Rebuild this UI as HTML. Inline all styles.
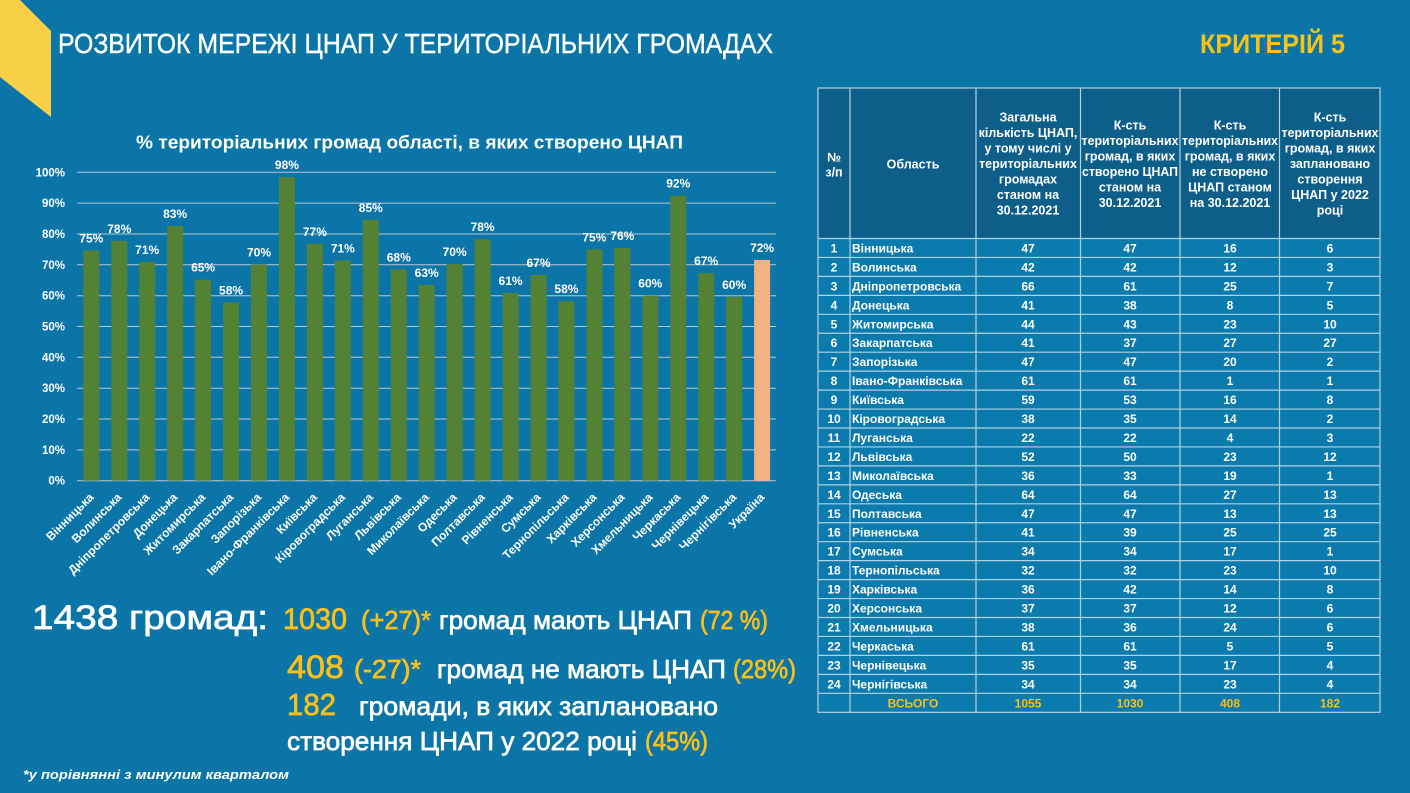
<!DOCTYPE html>
<html><head><meta charset="utf-8"><style>
html,body{margin:0;padding:0;background:#0B75A8;}
svg{display:block;font-family:"Liberation Sans","DejaVu Sans",sans-serif;}
</style></head><body>
<svg width="1410" height="793" viewBox="0 0 1410 793" xmlns="http://www.w3.org/2000/svg">
<rect x="0" y="0" width="1410" height="793" fill="#0B75A8"/>
<polygon points="0,0 20,0 51,31 51,117 0,77" fill="#F9D04A"/>
<text x="58" y="53" font-size="28" fill="#fff" stroke="#fff" stroke-width="0.4" textLength="715" lengthAdjust="spacingAndGlyphs">РОЗВИТОК МЕРЕЖІ ЦНАП У ТЕРИТОРІАЛЬНИХ ГРОМАДАХ</text>
<text x="1200" y="53" font-size="27" font-weight="bold" fill="#F7C21A" textLength="145" lengthAdjust="spacingAndGlyphs">КРИТЕРІЙ 5</text>

<text x="136" y="148.5" font-size="18" font-weight="bold" fill="#fff" textLength="547" lengthAdjust="spacingAndGlyphs">% територіальних громад області, в яких створено ЦНАП</text>

<g stroke="#B5C8D5" stroke-width="1">
<line x1="77" y1="480.7" x2="776" y2="480.7"/>
<line x1="77" y1="449.9" x2="776" y2="449.9"/>
<line x1="77" y1="419.0" x2="776" y2="419.0"/>
<line x1="77" y1="388.2" x2="776" y2="388.2"/>
<line x1="77" y1="357.3" x2="776" y2="357.3"/>
<line x1="77" y1="326.5" x2="776" y2="326.5"/>
<line x1="77" y1="295.7" x2="776" y2="295.7"/>
<line x1="77" y1="264.8" x2="776" y2="264.8"/>
<line x1="77" y1="234.0" x2="776" y2="234.0"/>
<line x1="77" y1="203.1" x2="776" y2="203.1"/>
<line x1="77" y1="172.3" x2="776" y2="172.3"/>
</g>
<g font-size="11.5" font-weight="bold" fill="#fff" text-anchor="end">
<text x="65" y="484.7">0%</text>
<text x="65" y="453.9">10%</text>
<text x="65" y="423.0">20%</text>
<text x="65" y="392.2">30%</text>
<text x="65" y="361.3">40%</text>
<text x="65" y="330.5">50%</text>
<text x="65" y="299.7">60%</text>
<text x="65" y="268.8">70%</text>
<text x="65" y="238.0">80%</text>
<text x="65" y="207.1">90%</text>
<text x="65" y="176.3">100%</text>
</g>

<g fill="#548235">
<rect x="83.3" y="250.6" width="16" height="230.1"/>
<rect x="111.25" y="240.8" width="16" height="239.9"/>
<rect x="139.2" y="262.0" width="16" height="218.7"/>
<rect x="167.15" y="226.0" width="16" height="254.7"/>
<rect x="195.1" y="279.6" width="16" height="201.1"/>
<rect x="223.05" y="302.4" width="16" height="178.3"/>
<rect x="251.0" y="264.5" width="16" height="216.2"/>
<rect x="278.95" y="177.2" width="16" height="303.5"/>
<rect x="306.9" y="243.8" width="16" height="236.9"/>
<rect x="334.85" y="260.5" width="16" height="220.2"/>
<rect x="362.8" y="219.8" width="16" height="260.9"/>
<rect x="390.75" y="269.4" width="16" height="211.3"/>
<rect x="418.7" y="284.9" width="16" height="195.8"/>
<rect x="446.65" y="263.9" width="16" height="216.8"/>
<rect x="474.6" y="239.2" width="16" height="241.5"/>
<rect x="502.55" y="292.9" width="16" height="187.8"/>
<rect x="530.5" y="275.0" width="16" height="205.7"/>
<rect x="558.45" y="301.2" width="16" height="179.5"/>
<rect x="586.4" y="249.4" width="16" height="231.3"/>
<rect x="614.35" y="247.9" width="16" height="232.8"/>
<rect x="642.3" y="295.7" width="16" height="185.0"/>
<rect x="670.25" y="195.7" width="16" height="285.0"/>
<rect x="698.2" y="273.1" width="16" height="207.6"/>
<rect x="726.15" y="296.9" width="16" height="183.8"/>
</g>
<rect x="754.1" y="259.9" width="16" height="220.8" fill="#F4B183"/>

<g font-size="12" font-weight="bold" fill="#fff" text-anchor="middle">
<text x="91.3" y="242.6">75%</text>
<text x="119.25" y="232.8">78%</text>
<text x="147.2" y="254.0">71%</text>
<text x="175.15" y="218.0">83%</text>
<text x="203.1" y="271.6">65%</text>
<text x="231.05" y="294.4">58%</text>
<text x="259.0" y="256.5">70%</text>
<text x="286.95" y="169.2">98%</text>
<text x="314.9" y="235.8">77%</text>
<text x="342.85" y="252.5">71%</text>
<text x="370.8" y="211.8">85%</text>
<text x="398.75" y="261.4">68%</text>
<text x="426.7" y="276.9">63%</text>
<text x="454.65" y="255.9">70%</text>
<text x="482.6" y="231.2">78%</text>
<text x="510.55" y="284.9">61%</text>
<text x="538.5" y="267.0">67%</text>
<text x="566.45" y="293.2">58%</text>
<text x="594.4" y="241.4">75%</text>
<text x="622.35" y="239.9">76%</text>
<text x="650.3" y="287.7">60%</text>
<text x="678.25" y="187.7">92%</text>
<text x="706.2" y="265.1">67%</text>
<text x="734.15" y="288.9">60%</text>
<text x="762.1" y="251.9">72%</text>
</g>

<g font-size="12" font-weight="bold" fill="#fff" text-anchor="end">
<text transform="translate(94.3,498) rotate(-45)">Вінницька</text>
<text transform="translate(122.25,498) rotate(-45)">Волинська</text>
<text transform="translate(150.2,498) rotate(-45)">Дніпропетровська</text>
<text transform="translate(178.15,498) rotate(-45)">Донецька</text>
<text transform="translate(206.1,498) rotate(-45)">Житомирська</text>
<text transform="translate(234.05,498) rotate(-45)">Закарпатська</text>
<text transform="translate(262.0,498) rotate(-45)">Запорізька</text>
<text transform="translate(289.95,498) rotate(-45)">Івано-Франківська</text>
<text transform="translate(317.9,498) rotate(-45)">Київська</text>
<text transform="translate(345.85,498) rotate(-45)">Кіровоградська</text>
<text transform="translate(373.8,498) rotate(-45)">Луганська</text>
<text transform="translate(401.75,498) rotate(-45)">Львівська</text>
<text transform="translate(429.7,498) rotate(-45)">Миколаївська</text>
<text transform="translate(457.65,498) rotate(-45)">Одеська</text>
<text transform="translate(485.6,498) rotate(-45)">Полтавська</text>
<text transform="translate(513.55,498) rotate(-45)">Рівненська</text>
<text transform="translate(541.5,498) rotate(-45)">Сумська</text>
<text transform="translate(569.45,498) rotate(-45)">Тернопільська</text>
<text transform="translate(597.4,498) rotate(-45)">Харківська</text>
<text transform="translate(625.35,498) rotate(-45)">Херсонська</text>
<text transform="translate(653.3,498) rotate(-45)">Хмельницька</text>
<text transform="translate(681.25,498) rotate(-45)">Черкаська</text>
<text transform="translate(709.2,498) rotate(-45)">Чернівецька</text>
<text transform="translate(737.15,498) rotate(-45)">Чернігівська</text>
<text transform="translate(765.1,498) rotate(-45)">Україна</text>
</g>

<!-- bottom summary -->
<g stroke-width="0.7">
<text x="32" y="629" font-size="34" fill="#fff" stroke="#fff" textLength="236" lengthAdjust="spacingAndGlyphs">1438 громад:</text>
<text x="283" y="629" font-size="30" fill="#FBBF1A" stroke="#FBBF1A" textLength="64" lengthAdjust="spacingAndGlyphs">1030</text>
<text x="361" y="629" font-size="26" fill="#FBBF1A" stroke="#FBBF1A" textLength="70" lengthAdjust="spacingAndGlyphs">(+27)*</text>
<text x="439" y="629" font-size="26" fill="#fff" stroke="#fff" textLength="253" lengthAdjust="spacingAndGlyphs">громад мають ЦНАП</text>
<text x="700" y="629" font-size="26" fill="#FBBF1A" stroke="#FBBF1A" textLength="68" lengthAdjust="spacingAndGlyphs">(72 %)</text>

<text x="287" y="678" font-size="32" fill="#FBBF1A" stroke="#FBBF1A" textLength="57" lengthAdjust="spacingAndGlyphs">408</text>
<text x="354" y="678" font-size="26" fill="#FBBF1A" stroke="#FBBF1A" textLength="67" lengthAdjust="spacingAndGlyphs">(-27)*</text>
<text x="437" y="678" font-size="26" fill="#fff" stroke="#fff" textLength="289" lengthAdjust="spacingAndGlyphs">громад не мають ЦНАП</text>
<text x="733" y="678" font-size="26" fill="#FBBF1A" stroke="#FBBF1A" textLength="63" lengthAdjust="spacingAndGlyphs">(28%)</text>

<text x="287" y="715" font-size="31" fill="#FBBF1A" stroke="#FBBF1A" textLength="49" lengthAdjust="spacingAndGlyphs">182</text>
<text x="359" y="715" font-size="26" fill="#fff" stroke="#fff" textLength="359" lengthAdjust="spacingAndGlyphs">громади, в яких заплановано</text>

<text x="287" y="750" font-size="26" fill="#fff" stroke="#fff" textLength="350" lengthAdjust="spacingAndGlyphs">створення ЦНАП у 2022 році</text>
<text x="645" y="750" font-size="26" fill="#FBBF1A" stroke="#FBBF1A" textLength="63" lengthAdjust="spacingAndGlyphs">(45%)</text>
</g>
<text x="23" y="779" font-size="13" font-weight="bold" font-style="italic" fill="#fff" textLength="266" lengthAdjust="spacingAndGlyphs">*у порівнянні з минулим кварталом</text>

<!-- table -->
<rect x="818" y="88" width="562" height="150.5" fill="#0E5E8A"/>
<rect x="818" y="238.5" width="562" height="473.8" fill="#0B7AAD"/>
<g stroke="#B0D2E4" stroke-width="1.2" fill="none">
<rect x="818" y="88" width="562" height="624.3"/>
<line x1="850" y1="88" x2="850" y2="712.3"/>
<line x1="976" y1="88" x2="976" y2="712.3"/>
<line x1="1080.5" y1="88" x2="1080.5" y2="712.3"/>
<line x1="1180" y1="88" x2="1180" y2="712.3"/>
<line x1="1279.5" y1="88" x2="1279.5" y2="712.3"/>
<line x1="818" y1="238.5" x2="1380" y2="238.5"/>
<line x1="818" y1="257.45" x2="1380" y2="257.45"/>
<line x1="818" y1="276.4" x2="1380" y2="276.4"/>
<line x1="818" y1="295.35" x2="1380" y2="295.35"/>
<line x1="818" y1="314.3" x2="1380" y2="314.3"/>
<line x1="818" y1="333.25" x2="1380" y2="333.25"/>
<line x1="818" y1="352.2" x2="1380" y2="352.2"/>
<line x1="818" y1="371.15" x2="1380" y2="371.15"/>
<line x1="818" y1="390.1" x2="1380" y2="390.1"/>
<line x1="818" y1="409.05" x2="1380" y2="409.05"/>
<line x1="818" y1="428.0" x2="1380" y2="428.0"/>
<line x1="818" y1="446.95" x2="1380" y2="446.95"/>
<line x1="818" y1="465.9" x2="1380" y2="465.9"/>
<line x1="818" y1="484.85" x2="1380" y2="484.85"/>
<line x1="818" y1="503.8" x2="1380" y2="503.8"/>
<line x1="818" y1="522.75" x2="1380" y2="522.75"/>
<line x1="818" y1="541.7" x2="1380" y2="541.7"/>
<line x1="818" y1="560.65" x2="1380" y2="560.65"/>
<line x1="818" y1="579.6" x2="1380" y2="579.6"/>
<line x1="818" y1="598.55" x2="1380" y2="598.55"/>
<line x1="818" y1="617.5" x2="1380" y2="617.5"/>
<line x1="818" y1="636.45" x2="1380" y2="636.45"/>
<line x1="818" y1="655.4" x2="1380" y2="655.4"/>
<line x1="818" y1="674.35" x2="1380" y2="674.35"/>
<line x1="818" y1="693.3" x2="1380" y2="693.3"/>
</g>

<g font-size="12.5" font-weight="bold" fill="#fff" text-anchor="middle">
<text x="834" y="161.5">№</text>
<text x="834" y="176.5">з/п</text>
<text x="913" y="168.5">Область</text>
<text x="1028" y="121.5">Загальна</text>
<text x="1028" y="137">кількість ЦНАП,</text>
<text x="1028" y="152.5">у тому числі у</text>
<text x="1028" y="168">територіальних</text>
<text x="1028" y="183.5">громадах</text>
<text x="1028" y="199">станом на</text>
<text x="1028" y="214.5">30.12.2021</text>
<text x="1130" y="129.5">К-сть</text>
<text x="1130" y="145" textLength="97" lengthAdjust="spacingAndGlyphs">територіальних</text>
<text x="1130" y="160.5">громад, в яких</text>
<text x="1130" y="176" textLength="96" lengthAdjust="spacingAndGlyphs">створено ЦНАП</text>
<text x="1130" y="191.5">станом на</text>
<text x="1130" y="207">30.12.2021</text>
<text x="1230" y="129.5">К-сть</text>
<text x="1230" y="145" textLength="96" lengthAdjust="spacingAndGlyphs">територіальних</text>
<text x="1230" y="160.5">громад, в яких</text>
<text x="1230" y="176">не створено</text>
<text x="1230" y="191.5">ЦНАП станом</text>
<text x="1230" y="207">на 30.12.2021</text>
<text x="1330" y="121.5">К-сть</text>
<text x="1330" y="137" textLength="97" lengthAdjust="spacingAndGlyphs">територіальних</text>
<text x="1330" y="152.5">громад, в яких</text>
<text x="1330" y="168">заплановано</text>
<text x="1330" y="183.5">створення</text>
<text x="1330" y="199">ЦНАП у 2022</text>
<text x="1330" y="214.5">році</text>
</g>

<g font-size="12" font-weight="bold" fill="#fff">
<g text-anchor="middle">
<text x="834" y="252.5">1</text><text x="834" y="271.4">2</text><text x="834" y="290.4">3</text><text x="834" y="309.3">4</text><text x="834" y="328.3">5</text><text x="834" y="347.2">6</text><text x="834" y="366.2">7</text><text x="834" y="385.1">8</text><text x="834" y="404.1">9</text><text x="834" y="423.0">10</text><text x="834" y="442.0">11</text><text x="834" y="460.9">12</text><text x="834" y="479.9">13</text><text x="834" y="498.8">14</text><text x="834" y="517.8">15</text><text x="834" y="536.7">16</text><text x="834" y="555.7">17</text><text x="834" y="574.6">18</text><text x="834" y="593.6">19</text><text x="834" y="612.5">20</text><text x="834" y="631.5">21</text><text x="834" y="650.4">22</text><text x="834" y="669.4">23</text><text x="834" y="688.3">24</text>
</g>
<g>
<text x="852" y="252.5">Вінницька</text><text x="852" y="271.4">Волинська</text><text x="852" y="290.4">Дніпропетровська</text><text x="852" y="309.3">Донецька</text><text x="852" y="328.3">Житомирська</text><text x="852" y="347.2">Закарпатська</text><text x="852" y="366.2">Запорізька</text><text x="852" y="385.1">Івано-Франківська</text><text x="852" y="404.1">Київська</text><text x="852" y="423.0">Кіровоградська</text><text x="852" y="442.0">Луганська</text><text x="852" y="460.9">Львівська</text><text x="852" y="479.9">Миколаївська</text><text x="852" y="498.8">Одеська</text><text x="852" y="517.8">Полтавська</text><text x="852" y="536.7">Рівненська</text><text x="852" y="555.7">Сумська</text><text x="852" y="574.6">Тернопільська</text><text x="852" y="593.6">Харківська</text><text x="852" y="612.5">Херсонська</text><text x="852" y="631.5">Хмельницька</text><text x="852" y="650.4">Черкаська</text><text x="852" y="669.4">Чернівецька</text><text x="852" y="688.3">Чернігівська</text>
</g>
<g text-anchor="middle">
<text x="1028" y="252.5">47</text><text x="1028" y="271.4">42</text><text x="1028" y="290.4">66</text><text x="1028" y="309.3">41</text><text x="1028" y="328.3">44</text><text x="1028" y="347.2">41</text><text x="1028" y="366.2">47</text><text x="1028" y="385.1">61</text><text x="1028" y="404.1">59</text><text x="1028" y="423.0">38</text><text x="1028" y="442.0">22</text><text x="1028" y="460.9">52</text><text x="1028" y="479.9">36</text><text x="1028" y="498.8">64</text><text x="1028" y="517.8">47</text><text x="1028" y="536.7">41</text><text x="1028" y="555.7">34</text><text x="1028" y="574.6">32</text><text x="1028" y="593.6">36</text><text x="1028" y="612.5">37</text><text x="1028" y="631.5">38</text><text x="1028" y="650.4">61</text><text x="1028" y="669.4">35</text><text x="1028" y="688.3">34</text>
<text x="1130" y="252.5">47</text><text x="1130" y="271.4">42</text><text x="1130" y="290.4">61</text><text x="1130" y="309.3">38</text><text x="1130" y="328.3">43</text><text x="1130" y="347.2">37</text><text x="1130" y="366.2">47</text><text x="1130" y="385.1">61</text><text x="1130" y="404.1">53</text><text x="1130" y="423.0">35</text><text x="1130" y="442.0">22</text><text x="1130" y="460.9">50</text><text x="1130" y="479.9">33</text><text x="1130" y="498.8">64</text><text x="1130" y="517.8">47</text><text x="1130" y="536.7">39</text><text x="1130" y="555.7">34</text><text x="1130" y="574.6">32</text><text x="1130" y="593.6">42</text><text x="1130" y="612.5">37</text><text x="1130" y="631.5">36</text><text x="1130" y="650.4">61</text><text x="1130" y="669.4">35</text><text x="1130" y="688.3">34</text>
<text x="1230" y="252.5">16</text><text x="1230" y="271.4">12</text><text x="1230" y="290.4">25</text><text x="1230" y="309.3">8</text><text x="1230" y="328.3">23</text><text x="1230" y="347.2">27</text><text x="1230" y="366.2">20</text><text x="1230" y="385.1">1</text><text x="1230" y="404.1">16</text><text x="1230" y="423.0">14</text><text x="1230" y="442.0">4</text><text x="1230" y="460.9">23</text><text x="1230" y="479.9">19</text><text x="1230" y="498.8">27</text><text x="1230" y="517.8">13</text><text x="1230" y="536.7">25</text><text x="1230" y="555.7">17</text><text x="1230" y="574.6">23</text><text x="1230" y="593.6">14</text><text x="1230" y="612.5">12</text><text x="1230" y="631.5">24</text><text x="1230" y="650.4">5</text><text x="1230" y="669.4">17</text><text x="1230" y="688.3">23</text>
<text x="1330" y="252.5">6</text><text x="1330" y="271.4">3</text><text x="1330" y="290.4">7</text><text x="1330" y="309.3">5</text><text x="1330" y="328.3">10</text><text x="1330" y="347.2">27</text><text x="1330" y="366.2">2</text><text x="1330" y="385.1">1</text><text x="1330" y="404.1">8</text><text x="1330" y="423.0">2</text><text x="1330" y="442.0">3</text><text x="1330" y="460.9">12</text><text x="1330" y="479.9">1</text><text x="1330" y="498.8">13</text><text x="1330" y="517.8">13</text><text x="1330" y="536.7">25</text><text x="1330" y="555.7">1</text><text x="1330" y="574.6">10</text><text x="1330" y="593.6">8</text><text x="1330" y="612.5">6</text><text x="1330" y="631.5">6</text><text x="1330" y="650.4">5</text><text x="1330" y="669.4">4</text><text x="1330" y="688.3">4</text>
</g>
<g text-anchor="middle" fill="#FBBF1A">
<text x="913" y="707.3">ВСЬОГО</text>
<text x="1028" y="707.3">1055</text>
<text x="1130" y="707.3">1030</text>
<text x="1230" y="707.3">408</text>
<text x="1330" y="707.3">182</text>
</g>
</g>
</svg>
</body></html>
